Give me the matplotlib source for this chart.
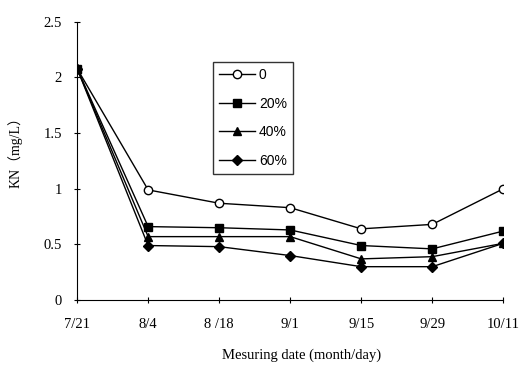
import matplotlib
matplotlib.use('Agg')
import matplotlib.pyplot as plt

dates = ['7/21', '8/4', '8 /18', '9/1', '9/15', '9/29', '10/11']
kn_0 = [2.08, 0.99, 0.87, 0.83, 0.64, 0.68, 1.00]
kn_20 = [2.08, 0.66, 0.65, 0.63, 0.49, 0.46, 0.62]
kn_40 = [2.08, 0.57, 0.57, 0.57, 0.37, 0.39, 0.51]
kn_60 = [2.08, 0.49, 0.48, 0.40, 0.30, 0.30, 0.51]

fig = plt.figure(figsize=(5.21, 3.70), dpi=100)
ax = fig.add_axes([0.148, 0.189, 0.818, 0.752])

x = list(range(len(dates)))
ax.plot(x, kn_0, 'k-', marker='o', mfc='white', mec='black', ms=6, lw=1, label='0')
ax.plot(x, kn_20, 'k-', marker='s', ms=6, lw=1, label='20%')
ax.plot(x, kn_40, 'k-', marker='^', ms=6, lw=1, label='40%')
ax.plot(x, kn_60, 'k-', marker='D', ms=5, lw=1, label='60%')

ax.set_xlim(0, 6)
ax.set_ylim(0, 2.5)
ax.set_xticks(x)
ax.set_xticklabels(dates)
ax.set_yticks([0, 0.5, 1, 1.5, 2, 2.5])
ax.set_yticklabels(['0', '0.5', '1', '1.5', '2', '2.5'])
ax.spines['top'].set_visible(False)
ax.spines['right'].set_visible(False)
ax.tick_params(direction='inout', length=4, width=0.8, labelsize=10.5)
ax.tick_params(axis='x', pad=11)
ax.tick_params(axis='y', pad=9)
for lab in ax.get_xticklabels() + ax.get_yticklabels():
    lab.set_family('Liberation Serif')

ax.set_xlabel('Mesuring date (month/day)', family='Liberation Serif', fontsize=10.5)
ax.xaxis.set_label_coords(0.526, -0.2)
ax.xaxis.label.set_va('center')
ax.set_ylabel('KN（mg/L）', family=['Liberation Serif', 'Noto Sans CJK SC'], fontsize=10)
ax.yaxis.set_label_coords(-0.146, 0.543)
ax.yaxis.label.set_va('center')

leg = ax.legend(loc='upper left', bbox_to_anchor=(0.319, 0.856), borderaxespad=0,
                frameon=True, fancybox=False, edgecolor='black',
                handlelength=2.6, handletextpad=0.25, borderpad=0.45, labelspacing=1.05,
                prop={'family': 'Liberation Sans', 'size': 10})
leg.get_frame().set_linewidth(1)

fig.savefig('out.png', dpi=100)
